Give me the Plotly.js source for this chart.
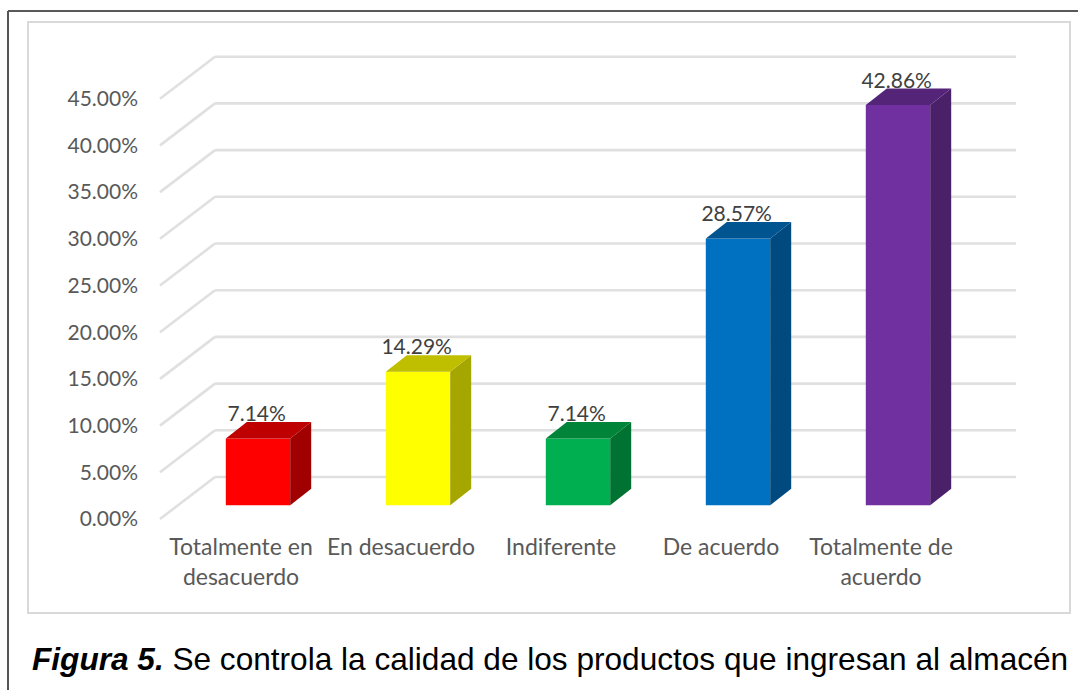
<!DOCTYPE html>
<html><head><meta charset="utf-8">
<script src="https://cdn.plot.ly/plotly-3.0.1.min.js"></script>
<style>html,body{margin:0;padding:0;background:#fff}#c{width:1078px;height:690px}</style></head>
<body><div id="c"></div>
<script>
const categories = ["Totalmente en<br>desacuerdo","En desacuerdo","Indiferente","De acuerdo","Totalmente de<br>acuerdo"];
const values = [7.14,14.29,7.14,28.57,42.86];
const valueLabels = ["7.14%","14.29%","7.14%","28.57%","42.86%"];
const frontColors = ["#FF0000","#FFFF00","#00B050","#0070C0","#7030A0"];
const topColors = ["#BE0000","#BFBF00","#008439","#005490","#542478"];
const sideColors = ["#A00000","#A6A600","#007232","#004A80","#4A2069"];
const gridValues = [0,5,10,15,20,25,30,35,40,45];
const gridLabels = ["0.00%","5.00%","10.00%","15.00%","20.00%","25.00%","30.00%","35.00%","40.00%","45.00%"];

const W=1078,H=690,PL=139,PR=1040,PT=30,PB=531;
const UX=160,UY=9.34;
const x0=258,y0=477;
const xOf=p=>1+(p-x0)/UX, yOf=p=>(y0-p)/UY;
const depthX=21/UX, depthY=16.5/UY, halfW=32.2/UX, floorY=yOf(505.3);
const wallL=xOf(215), wallR=xOf(1016), frontL=xOf(160), frontDY=yOf(519);
const positions=values.map((_,i)=>i+1);

const traces=[];
traces.push({type:"bar",x:positions,y:values,base:floorY,width:2*halfW,marker:{color:frontColors,line:{width:0}},hoverinfo:"skip",showlegend:false});

values.forEach((v,i)=>{
  const c=positions[i],t=v+floorY,l=c-halfW,r=c+halfW;
  traces.push({type:"scatter",mode:"lines",fill:"toself",fillcolor:sideColors[i],line:{width:0,color:sideColors[i]},
    x:[r,r+depthX,r+depthX,r,r],y:[floorY,floorY+depthY,t+depthY,t,floorY],hoverinfo:"skip",showlegend:false});
  traces.push({type:"scatter",mode:"lines",fill:"toself",fillcolor:topColors[i],line:{width:0,color:topColors[i]},
    x:[l,r,r+depthX,l+depthX,l],y:[t,t,t+depthY,t+depthY,t],hoverinfo:"skip",showlegend:false});
});

traces.push({type:"scatter",mode:"text",x:positions.map(p=>p-1.3/UX),y:values.map(v=>v+floorY+depthY-0.47),text:valueLabels,
  textposition:"top center",textfont:{family:"Lato, sans-serif",size:21,color:"#404040"},cliponaxis:false,hoverinfo:"skip",showlegend:false});

const gridShapes=[];
gridValues.forEach(v=>{
  const line={color:"#e0e0e0",width:2.6};
  gridShapes.push({type:"line",xref:"x",yref:"y",x0:frontL,y0:v+frontDY,x1:wallL,y1:v,line,layer:"below"});
  gridShapes.push({type:"line",xref:"x",yref:"y",x0:wallL,y0:v,x1:wallR,y1:v,line,layer:"below"});
});

const pxX=p=>p/W,pxY=p=>1-p/H;
const lineShape=(a,b,c,d,col,w)=>({type:"line",xref:"paper",yref:"paper",x0:pxX(a),y0:pxY(b),x1:pxX(c),y1:pxY(d),line:{color:col,width:w}});
const layout={
  width:W,height:H,margin:{l:0,r:0,t:0,b:0},paper_bgcolor:"#fff",plot_bgcolor:"rgba(0,0,0,0)",showlegend:false,barmode:"overlay",
  xaxis:{domain:[PL/W,PR/W],range:[xOf(PL),xOf(PR)],tickmode:"array",tickvals:positions.map(p=>p-17/UX),ticktext:categories,
    showgrid:false,zeroline:false,showline:false,ticks:"",ticklen:0,tickangle:0,automargin:false,
    tickfont:{family:"Lato, sans-serif",size:23,color:"#595959"}},
  yaxis:{domain:[1-PB/H,1-PT/H],range:[yOf(PB),yOf(PT)],tickmode:"array",tickvals:gridValues.map(v=>v+frontDY),ticktext:gridLabels,
    showgrid:false,zeroline:false,showline:false,ticks:"",automargin:false,
    tickfont:{family:"Lato, sans-serif",size:21,color:"#595959"}},
  shapes:gridShapes.concat([
    lineShape(8,11,1078,11,"#222",1.5),
    lineShape(8,11,8,690,"#555",2),
    {type:"rect",xref:"paper",yref:"paper",x0:pxX(28),y0:pxY(613),x1:pxX(1070),y1:pxY(22),line:{color:"#d9d9d9",width:2},layer:"below"}
  ]),
  annotations:[{xref:"paper",yref:"paper",x:pxX(30),y:pxY(659),xanchor:"left",yanchor:"middle",showarrow:false,
    text:"<b><i>Figura 5.</i></b> Se controla la calidad de los productos que ingresan al almacén",
    font:{family:"Liberation Sans, Arial, sans-serif",size:31.6,color:"#000"}}]
};
Plotly.newPlot("c",traces,layout,{displayModeBar:false,staticPlot:true});
</script></body></html>
